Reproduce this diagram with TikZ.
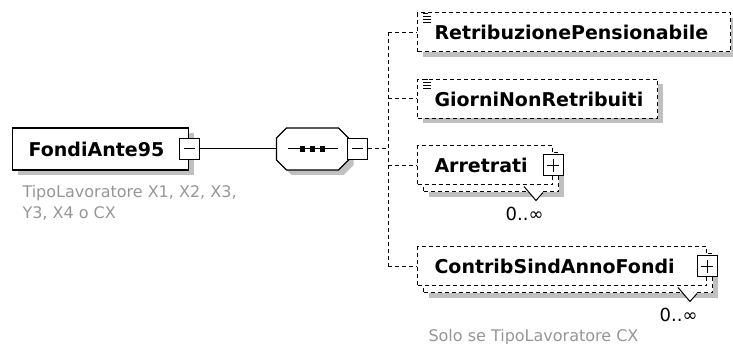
\documentclass[tikz,border=0pt]{standalone}
\usepackage{fontspec}
\setmainfont{DejaVu Sans}
\usepackage{tikz}
\usetikzlibrary{shadows, calc}
\definecolor{shadowgray}{RGB}{192,192,192}
\definecolor{notegray}{RGB}{150,150,150}
\newcommand{\namefont}{\fontsize{19}{22}\selectfont\bfseries}
\newcommand{\notefont}{\fontsize{16}{21}\selectfont}
\newcommand{\multfont}{\fontsize{18}{20}\selectfont}

\begin{document}
\begin{tikzpicture}[x=1pt, y=-1pt, line width=1pt,
    dsh/.style={dash pattern=on 4pt off 3pt},
    boxshadow/.style={drop shadow={shadow xshift=5pt, shadow yshift=-5pt, fill=shadowgray, opacity=1}},
    rootbox/.style={draw, line width=1.4pt, fill=white, boxshadow, minimum height=42pt, inner xsep=16pt, text width=#1, align=left, font=\namefont},
    elem/.style={draw, dsh, fill=white, minimum height=39pt, inner xsep=17pt, text width=#1, align=left, font=\namefont},
    elemback/.style={draw, dsh, fill=white, boxshadow, minimum height=39pt, minimum width=#1, inner sep=0pt},
    toggle/.style={draw, fill=white, minimum width=20pt, minimum height=21pt, inner sep=0pt},
    minusbox/.style={toggle, path picture={\draw ([xshift=-5.5pt]path picture bounding box.center) -- ([xshift=5.5pt]path picture bounding box.center);}},
    plusbox/.style={toggle, path picture={
        \draw ([xshift=-6pt]path picture bounding box.center) -- ([xshift=6pt]path picture bounding box.center);
        \draw ([yshift=-6.5pt]path picture bounding box.center) -- ([yshift=6.5pt]path picture bounding box.center);}},
    note/.style={font=\notefont, text=notegray, align=left, inner sep=0pt}]
    \useasboundingbox (0,0) rectangle (733,344);

    % root element
    \node[rootbox=144pt, anchor=west] (root) at (12,149) {FondiAnte95};
    \node[minusbox] (rootminus) at (root.east) {};
    \node[note, anchor=north west] (rootnote) at (22,185) {TipoLavoratore X1, X2, X3,\\Y3, X4 o CX};

    % sequence
    \node[inner sep=0pt, minimum width=71pt, minimum height=41pt] (seq) at (312.5,149) {};
    \draw[line width=1.2pt, fill=white, boxshadow]
        ([xshift=10pt]seq.north west) -- ([xshift=-10pt]seq.north east) -- ([yshift=-10pt]seq.north east)
        -- ([yshift=10pt]seq.south east) -- ([xshift=-10pt]seq.south east) -- ([xshift=10pt]seq.south west)
        -- ([yshift=10pt]seq.south west) -- ([yshift=-10pt]seq.north west) -- cycle;
    \draw ($(seq.center)+(-25,0)$) -- ++(50,0);
    \foreach \dx in {-10,0,10}
        \fill ($(seq.center)+(\dx,0)$) +(-2.6,-2.6) rectangle +(2.6,2.6);
    \node[minusbox, anchor=west] (seqminus) at ([xshift=-2pt]seq.east) {};
    \draw (rootminus.east) -- (seq.west);

    % children
    \node[elem=279pt, boxshadow, anchor=west] (pension) at (417,32.5) {RetribuzionePensionabile};
    \node[elem=206pt, boxshadow, anchor=west] (giorni) at (417,99) {GiorniNonRetribuiti};
    \node[elemback=135pt, anchor=west] (arretratiback) at (423,172.5) {};
    \node[elem=101pt, anchor=west] (arretrati) at (417,165.5) {Arretrati};
    \node[plusbox] (arretratiplus) at (arretrati.east) {};
    \node[elemback=289pt, anchor=west] (contribback) at (423,273.5) {};
    \node[elem=255pt, anchor=west] (contrib) at (417,266.5) {ContribSindAnnoFondi};
    \node[plusbox] (contribplus) at (contrib.east) {};
    \node[note, anchor=base west] (contribnote) at (428,341.5) {Solo se TipoLavoratore CX};

    % text content icons
    \foreach \n in {pension, giorni} {
        \draw ($(\n.north west)+(6,1)$) -- ++(5,0);
        \foreach \k in {4,7,10}
            \draw ($(\n.north west)+(6,\k)$) -- ++(8,0);
    }

    % occurrence marks
    \foreach \b in {arretratiback, contribback} {
        \fill[white] ($(\b.south east)+(-35,-6)$) -- ($(\b.south east)+(-23,8)$) -- ($(\b.south east)+(-16,0)$) -- cycle;
        \draw ($(\b.south east)+(-35,-6)$) -- ($(\b.south east)+(-23,8)$) -- ($(\b.south east)+(-16,0)$);
        \node[font=\multfont, anchor=base east, inner sep=0pt] (\b-mult) at ($(\b.south east)+(-15,28)$) {0..∞};
    }

    % connectors
    \coordinate (spine) at (388,149);
    \draw[dsh] (seqminus.east) -- (spine);
    \draw[dsh] (pension.west -| spine) -- (contrib.west -| spine);
    \foreach \c in {pension, giorni, arretrati, contrib}
        \draw[dsh] (\c.west -| spine) -- (\c.west);
\end{tikzpicture}
\end{document}
